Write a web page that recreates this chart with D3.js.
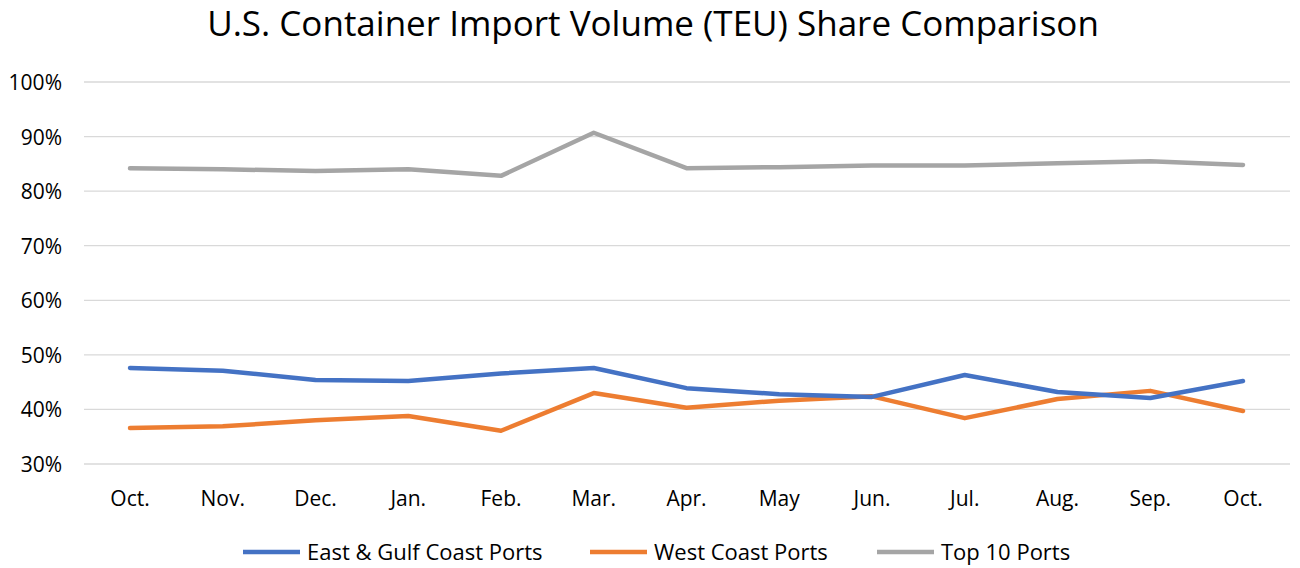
<!DOCTYPE html>
<html><head><meta charset="utf-8">
<script src="https://cdn.jsdelivr.net/npm/d3@7"></script>
<style>body{margin:0;background:#fff}svg{font-family:"Open Sans",sans-serif}</style>
</head><body><svg id="c" width="1300" height="568"></svg>
<script>
const months = ["Oct.","Nov.","Dec.","Jan.","Feb.","Mar.","Apr.","May","Jun.","Jul.","Aug.","Sep.","Oct."];
const eastGulf = [47.6,47.1,45.4,45.2,46.6,47.6,43.9,42.8,42.3,46.3,43.2,42.1,45.2];
const westCoast = [36.6,36.9,38.0,38.8,36.1,43.0,40.3,41.6,42.4,38.4,41.9,43.4,39.7];
const top10 = [84.2,84.0,83.7,84.0,82.8,90.7,84.2,84.4,84.7,84.7,85.1,85.5,84.8];
const yTicks = [30,40,50,60,70,80,90,100];
const seriesNames = ["East & Gulf Coast Ports","West Coast Ports","Top 10 Ports"];
const colors = ["#4472C4","#ED7D31","#A5A5A5"];

const svg = d3.select("#c");
const x = d3.scalePoint().domain(d3.range(months.length)).range([130,1243]);
const y = d3.scaleLinear().domain([30,100]).range([464,82]);

svg.append("text").attr("x",653).attr("y",36).attr("text-anchor","middle")
  .attr("font-size",35).attr("fill","#000").text("U.S. Container Import Volume (TEU) Share Comparison");

svg.append("g").selectAll("line").data(yTicks).join("line")
  .attr("x1",84).attr("x2",1290).attr("y1",d=>y(d)).attr("y2",d=>y(d))
  .attr("stroke","#d9d9d9").attr("stroke-width",1.3);
svg.append("g").selectAll("text").data(yTicks).join("text")
  .attr("x",62).attr("y",d=>y(d)+8).attr("text-anchor","end").attr("font-size",21).attr("fill","#000")
  .text(d=>d+"%");
svg.append("g").selectAll("text").data(months).join("text")
  .attr("x",(d,i)=>x(i)).attr("y",506).attr("text-anchor","middle").attr("font-size",21).attr("fill","#000")
  .text(d=>d);

const line = d3.line().x((d,i)=>x(i)).y(d=>y(d));
[top10, westCoast, eastGulf].forEach((s,k)=>{
  const ci = [2,1,0][k];
  svg.append("path").datum(s).attr("d",line).attr("fill","none")
    .attr("stroke",colors[ci]).attr("stroke-width",4.5).attr("stroke-linejoin","round").attr("stroke-linecap","round");
});

const legX = [243,590,877];
seriesNames.forEach((n,i)=>{
  svg.append("line").attr("x1",legX[i]).attr("x2",legX[i]+57).attr("y1",552).attr("y2",552)
    .attr("stroke",colors[i]).attr("stroke-width",4.5);
  svg.append("text").attr("x",legX[i]+64).attr("y",560).attr("font-size",22).attr("fill","#000").text(n);
});
</script></body></html>
